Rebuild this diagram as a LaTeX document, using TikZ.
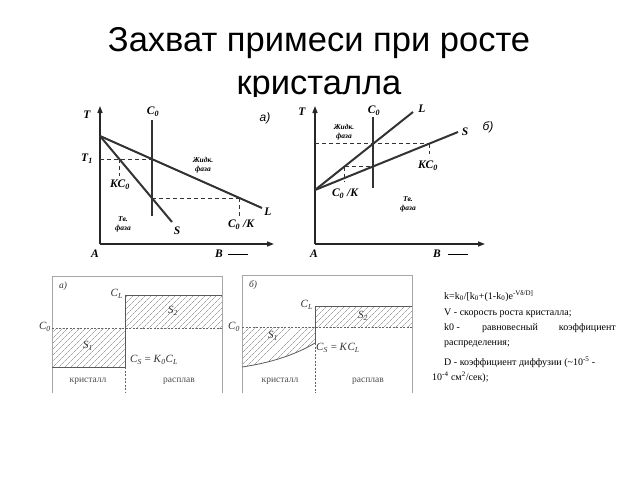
\documentclass[tikz,border=0pt]{standalone}
\usepackage{fontspec}
\setmainfont{Liberation Serif}
\newfontfamily\titlefont{Liberation Sans}
\usetikzlibrary{patterns.meta,arrows.meta}
\newcommand{\vr}[2]{\textit{#1}\textsubscript{\textit{#2}}}
\begin{document}
\begin{tikzpicture}[x=1pt,y=-1pt,
  axisline/.style={line width=1.5pt,color=black!85,-{Triangle[length=7pt,width=5pt]}},
  mainline/.style={line width=2pt,color=black!80},
  dsh/.style={line width=0.8pt,color=black!80,dash pattern=on 4pt off 3pt},
  lbl/.style={font=\bfseries\itshape\fontsize{11.5}{11.5}\selectfont,inner sep=0pt},
  smalllbl/.style={font=\bfseries\itshape\fontsize{7.5}{9}\selectfont,inner sep=0pt,align=center},
  panel/.style={font=\itshape\titlefont\fontsize{12}{12}\selectfont,inner sep=0pt},
  frameline/.style={line width=0.6pt,color=black!35},
  bline/.style={line width=0.8pt,color=black!65},
  bdash/.style={line width=0.6pt,color=black!60,dash pattern=on 2pt off 1.5pt},
  hatch/.style={pattern={Lines[angle=45,distance=4pt,line width=0.45pt]},pattern color=black!55},
  blbl/.style={font=\fontsize{11}{11}\selectfont,inner sep=0pt,text=black!80},
  wlbl/.style={font=\fontsize{9.5}{9.5}\selectfont,inner sep=0pt,text=black!70},
  txt/.style={font=\fontsize{10}{12}\selectfont,inner sep=0pt,anchor=base west}
]
\useasboundingbox (0,0) rectangle (640,480);

% ---------- title ----------
\node[font=\titlefont\fontsize{34.5}{34.5}\selectfont,inner sep=0pt,anchor=base] (title1) at (319,51) {Захват примеси при росте};
\node[font=\titlefont\fontsize{34.5}{34.5}\selectfont,inner sep=0pt,anchor=base] (title2) at (319,94) {кристалла};
% white background of the figures covering the title's descenders
\fill[white] (80,97) rectangle (510,265);

% ---------- top diagram a) ----------
\coordinate (aO) at (100,244);
\coordinate (aTop) at (100,106);
\coordinate (aRight) at (274,244);
\coordinate (aApex) at (100,136);
\coordinate (aL) at (262,208);
\coordinate (aS) at (172,222);
\coordinate (aC0t) at (152,120);
\coordinate (aC0b) at (152,216);
\coordinate (aT1) at (100,159.1);
\coordinate (aP1) at (152,159.1);
\coordinate (aK1) at (119.3,159.1);
\coordinate (aK2) at (119.3,176);
\coordinate (aP2) at (152,198.1);
\coordinate (aQ1) at (239.7,198.1);
\coordinate (aQ2) at (239.7,218);
\draw[axisline] (aO) -- (aTop);
\draw[axisline] (aO) -- (aRight);
\draw[mainline] (aApex) -- (aL);
\draw[mainline] (aApex) -- (aS);
\draw[line width=1.4pt,black!80] (aC0t) -- (aC0b);
\draw[dsh] (aT1) -- (aP1);
\draw[dsh] (aK1) -- (aK2);
\draw[dsh] (aP2) -- (aQ1);
\draw[dsh] (aQ1) -- (aQ2);
\node[lbl] (aTl) at (87,115) {T};
\node[lbl] (aT1l) at (87,159) {T\textsubscript{1}};
\node[lbl] (aAl) at (95,254) {A};
\node[lbl] (aBl) at (219,254) {B};
\coordinate (aBa) at (228,254);
\coordinate (aBb) at (248,254);
\draw[line width=0.8pt] (aBa) -- (aBb);
\node[lbl] (aC0l) at (153,112) {C\textsubscript{0}};
\node[panel] (apanel) at (265,118) {а)};
\node[lbl] (aLl) at (268,212) {L};
\node[lbl] (aSl) at (177,231) {S};
\node[lbl] (aKC) at (120,185) {KC\textsubscript{0}};
\node[lbl] (aCK) at (241,225) {C\textsubscript{0} /K};
\node[smalllbl] (aliq) at (203,165) {Жидк.\\фаза};
\node[smalllbl] (asol) at (123,224) {Тв.\\фаза};

% ---------- top diagram b) ----------
\coordinate (bO) at (315,244);
\coordinate (bTop) at (315,106);
\coordinate (bRight) at (485,244);
\coordinate (bApex) at (315,190);
\coordinate (bL) at (413,112);
\coordinate (bS) at (458,132);
\coordinate (bC0t) at (373,117);
\coordinate (bC0b) at (373,188);
\coordinate (bH1) at (315,143.8);
\coordinate (bH2) at (428.9,143.8);
\coordinate (bH3) at (428.9,154);
\coordinate (bG1) at (344.5,166.5);
\coordinate (bG2) at (373,166.5);
\coordinate (bG3) at (344.5,181);
\draw[axisline] (bO) -- (bTop);
\draw[axisline] (bO) -- (bRight);
\draw[mainline] (bApex) -- (bL);
\draw[mainline] (bApex) -- (bS);
\draw[line width=1.4pt,black!80] (bC0t) -- (bC0b);
\draw[dsh] (bH1) -- (bH2);
\draw[dsh] (bH2) -- (bH3);
\draw[dsh] (bG1) -- (bG2);
\draw[dsh] (bG1) -- (bG3);
\node[lbl] (bTl) at (302,112) {T};
\node[lbl] (bAl) at (314,254) {A};
\node[lbl] (bBl) at (437,254) {B};
\coordinate (bBa) at (448,254);
\coordinate (bBb) at (468,254);
\draw[line width=0.8pt] (bBa) -- (bBb);
\node[lbl] (bC0l) at (374,111) {C\textsubscript{0}};
\node[panel] (bpanel) at (488,127) {б)};
\node[lbl] (bLl) at (422,109) {L};
\node[lbl] (bSl) at (465,132) {S};
\node[lbl] (bKC) at (428,166) {KC\textsubscript{0}};
\node[lbl] (bCK) at (345,194) {C\textsubscript{0} /K};
\node[smalllbl] (bliq) at (344,132) {Жидк.\\фаза};
\node[smalllbl] (bsol) at (408,204) {Тв.\\фаза};

% ---------- bottom diagram a) ----------
\coordinate (caBL) at (52,393);
\coordinate (caTL) at (52,276);
\coordinate (caTR) at (222,276);
\coordinate (caBR) at (222,393);
\coordinate (caI1) at (125,295);
\coordinate (caI2) at (125,367);
\coordinate (caI3) at (125,393);
\coordinate (caR1) at (222,295);
\coordinate (caS1) at (52,367);
\coordinate (caC0l) at (52,328);
\coordinate (caC0r) at (222,328);
\fill[hatch] (52,328) rectangle (125,367);
\fill[hatch] (125,295) rectangle (222,328);
\draw[frameline] (caBL) -- (caTL) -- (caTR) -- (caBR);
\draw[bline] (caI1) -- (caR1);
\draw[bline] (caI1) -- (caI2);
\draw[bline] (caS1) -- (caI2);
\draw[bdash] (caC0l) -- (caC0r);
\draw[bdash] (caI2) -- (caI3);
\node[blbl,font=\itshape\fontsize{9.5}{9.5}\selectfont] (capanel) at (63,286) {а)};
\node[blbl,anchor=east] (caCL) at (123,294) {\vr{C}{L}};
\node[blbl,anchor=east] (caC0) at (51,327) {\vr{C}{0}};
\node[blbl] (caS1l) at (88,346) {\vr{S}{1}};
\node[blbl] (caS2l) at (173,311) {\vr{S}{2}};
\node[blbl] (caCS) at (154,360) {\vr{C}{S} = \vr{K}{0}\vr{C}{L}};
\node[wlbl] (cakr) at (88,381) {кристалл};
\node[wlbl] (carp) at (179,381) {расплав};

% ---------- bottom diagram b) ----------
\coordinate (cbBL) at (242,393);
\coordinate (cbTL) at (242,275);
\coordinate (cbTR) at (412,275);
\coordinate (cbBR) at (412,393);
\coordinate (cbI1) at (315,306);
\coordinate (cbI2) at (315,343);
\coordinate (cbI3) at (315,393);
\coordinate (cbR1) at (412,306);
\coordinate (cbC0l) at (242,327);
\coordinate (cbC0r) at (412,327);
\coordinate (cbCurve) at (242,367);
\fill[hatch] (242,327) -- (315,327) -- (315,343) .. controls (290,358) and (262,364) .. (242,367) -- cycle;
\fill[hatch] (315,306) rectangle (412,327);
\draw[frameline] (cbBL) -- (cbTL) -- (cbTR) -- (cbBR);
\draw[bline] (cbI1) -- (cbR1);
\draw[bline] (cbI1) -- (cbI2);
\draw[bline] (cbCurve) .. controls (262,364) and (290,358) .. (cbI2);
\draw[bdash] (cbC0l) -- (cbC0r);
\draw[bdash] (cbI2) -- (cbI3);
\node[blbl,font=\itshape\fontsize{9.5}{9.5}\selectfont] (cbpanel) at (253,285) {б)};
\node[blbl,anchor=east] (cbCL) at (313,305) {\vr{C}{L}};
\node[blbl] (cbC0) at (234,327) {\vr{C}{0}};
\node[blbl] (cbS1l) at (273,336) {\vr{S}{1}};
\node[blbl] (cbS2l) at (363,316) {\vr{S}{2}};
\node[blbl] (cbCS) at (338,348) {\vr{C}{S} = \textit{K}\vr{C}{L}};
\node[wlbl] (cbkr) at (280,381) {кристалл};
\node[wlbl] (cbrp) at (368,381) {расплав};

% ---------- text block ----------
\node[txt] (t1) at (444,299) {k=k\textsubscript{0}/[k\textsubscript{0}+(1-k\textsubscript{0})e\textsuperscript{-Vδ/D]}};
\node[txt] (t2) at (444,315) {V - скорость роста кристалла;};
\node[txt] (t3a) at (444,330) {k0 -};
\node[txt] (t3b) at (482,330) {равновесный};
\node[txt,anchor=base east] (t3c) at (616,330) {коэффициент};
\node[txt] (t4) at (444,345) {распределения;};
\node[txt] (t5) at (444,365) {D - коэффициент диффузии (\textasciitilde10\textsuperscript{-5} -};
\node[txt] (t6) at (432,380) {10\textsuperscript{-4} см\textsuperscript{2}/сек);};
\end{tikzpicture}
\end{document}
